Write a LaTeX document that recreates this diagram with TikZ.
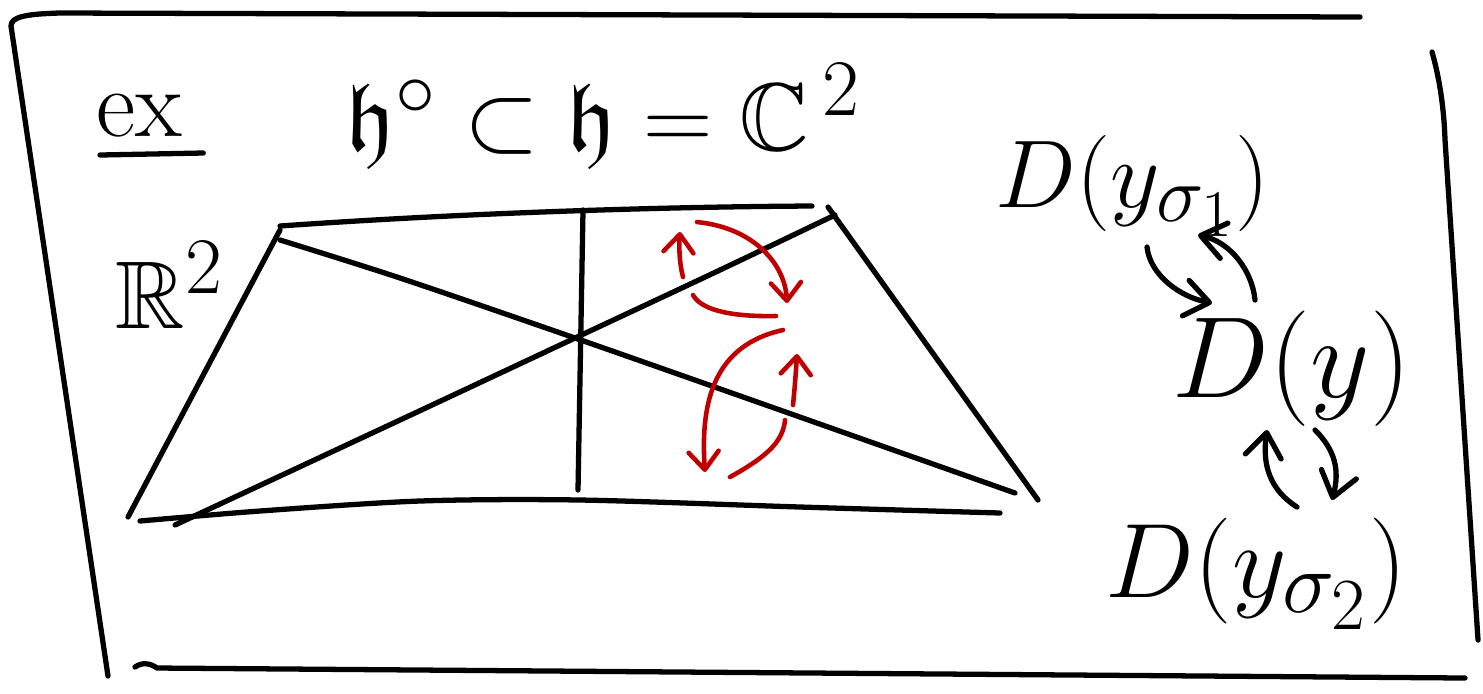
\documentclass[tikz,border=0pt]{standalone}
\usepackage{amsmath,amssymb}
\usepackage{tikz}
\usetikzlibrary{calc,positioning,arrows.meta}
\definecolor{tinta}{HTML}{000000}
\definecolor{rubro}{HTML}{C00000}
\begin{document}
\begin{tikzpicture}[x=0.01cm,y=-0.01cm, line cap=round, line join=round,
  traco/.style={draw=tinta, line width=1.5pt},
  verm/.style={draw=rubro, line width=1.3pt},
  seta/.style={-{Straight Barb[length=1.8mm,width=3mm,round]}},
  setag/.style={-{Straight Barb[length=2.4mm,width=3.6mm,round]}},
  txt/.style={font=\Huge, text=tinta, inner sep=0pt, scale=1.1}]
  \useasboundingbox (0,0) rectangle (1483,693);
  \draw[traco] (1360,17) -- (60,13) .. controls (25,14) and (11,17) .. (11,26) -- (108,676);
  \draw[traco] (135,667) .. controls (142,662) and (150,663) .. (157,668) -- (1465,678);
  \draw[traco] (1432,52) .. controls (1440,80) and (1444,110) .. (1445,140) -- (1478,640);
  \node[txt, anchor=base west] (ex) at (96,136) {ex};
  \draw[traco] ($(ex.base west)+(4,19)$) -- ($(ex.base east)+(20,17)$);
  \node[txt, anchor=base west] (eq) at (345,150) {$\mathfrak{h}^{\circ}\subset\mathfrak{h}=\mathbb{C}^{\,2}$};
  \node[txt, anchor=base west] (R2) at (115,328) {$\mathbb{R}^2$};
  \coordinate (nw) at (280,230);
  \coordinate (ne) at (828,207);
  \coordinate (sw) at (128,517);
  \coordinate (se) at (1038,500);
  \coordinate (vn) at (583,210);
  \coordinate (vs) at (578,490);
  \foreach \a/\b in {nw/sw,ne/se,vn/vs} \draw[traco] (\a) -- (\b);
  \draw[traco] (280,226) .. controls (450,214) and (640,207) .. (812,206);
  \draw[traco] plot[smooth] coordinates {(140,521) (260,511) (420,501) (580,500) (800,507) (1000,513)};
  \draw[traco] plot[smooth] coordinates {(280,240) (400,278) (575,338) (780,410) (1015,493)};
  \draw[traco] plot[smooth] coordinates {(175,525) (400,420) (575,338) (720,270) (835,215)};
  \draw[verm,seta] (697,222) .. controls (755,228) and (785,265) .. (787,303);
  \draw[verm] (776,316) .. controls (725,317) and (700,308) .. (693,295);
  \draw[verm,seta] (683,277) .. controls (679,262) and (679,245) .. (680,232);
  \draw[verm,seta] (783,330) .. controls (715,345) and (700,400) .. (705,472);
  \draw[verm] (730,477) .. controls (770,455) and (783,440) .. (785,420);
  \draw[verm,seta] (793,405) .. controls (795,385) and (796,370) .. (797,354);
  \node[txt, anchor=base west] (dys1) at (995,207) {$D(y_{\sigma_1})$};
  \node[txt, anchor=base west, scale=1.2] (dy) at (1172,397) {$D(y)$};
  \node[txt, anchor=base west, scale=1.1] (dys2) at (1105,597) {$D(y_{\sigma_2})$};
  \coordinate (a0) at (1147,247); \coordinate (a1) at (1212,303);
  \coordinate (b0) at (1255,300); \coordinate (b1) at (1198,235);
  \coordinate (c0) at (1297,507); \coordinate (c1) at (1267,430);
  \coordinate (d0) at (1315,430); \coordinate (d1) at (1332,500);
  \draw[traco,setag] (a0) .. controls (1150,275) and (1180,297) .. (a1);
  \draw[traco,setag] (b0) .. controls (1252,270) and (1230,242) .. (b1);
  \draw[traco,setag] (c0) .. controls (1270,490) and (1262,465) .. (c1);
  \draw[traco,setag] (d0) .. controls (1335,450) and (1340,470) .. (d1);
\end{tikzpicture}
\end{document}
